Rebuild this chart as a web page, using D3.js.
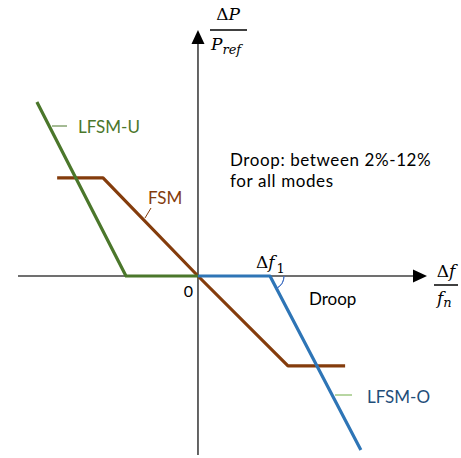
<!DOCTYPE html>
<html>
<head>
<meta charset="utf-8">
<script src="https://cdn.jsdelivr.net/npm/d3@7"></script>
<style>
  body { margin: 0; background: #fff; }
  text { font-family: Lato, "Open Sans", sans-serif; }
  .math { font-family: "DejaVu Serif", serif; }
</style>
</head>
<body>
<svg id="chart" width="461" height="458"></svg>
<script>
// droop characteristics, x = Δf/fn, y = ΔP/Pref (arbitrary units)
const fsmX = [-3.13, -2.11, 0, 2.0, 3.27];
const fsmY = [2.18, 2.18, 0, -2.0, -2.0];
const lfsmUX = [-3.58, -1.6, 0];
const lfsmUY = [3.87, 0, 0];
const lfsmOX = [0, 1.6, 3.62];
const lfsmOY = [0, 0, -3.87];

const seriesNames = ["FSM", "LFSM-U", "LFSM-O"];
const seriesColors = ["#843c0c", "#4b772b", "#2e75b6"];
const labelColors = ["#843c0c", "#4b772b", "#1f4e79"];

const svg = d3.select("#chart");

// scales
const x = d3.scaleLinear().domain([-4.0, 5.09]).range([18, 427]);
const y = d3.scaleLinear().domain([-3.98, 5.47]).range([455, 30]);

const axisColor = "#404040";

// axes without ticks, just the lines through the origin
const xAxis = svg.append("g")
  .attr("transform", `translate(0,${y(0)})`)
  .call(d3.axisBottom(x).tickValues([]).tickSizeOuter(0));
const yAxis = svg.append("g")
  .attr("transform", `translate(${x(0)},0)`)
  .call(d3.axisLeft(y).tickValues([]).tickSizeOuter(0));
[xAxis, yAxis].forEach(g => g.select(".domain")
  .attr("stroke", axisColor).attr("stroke-width", 1.6));

// shorten shafts so the arrowheads sit on the ends
xAxis.select(".domain").attr("d", `M${x(-4.0)},0H${x(5.09) - 13}`);
yAxis.select(".domain").attr("d", `M0,${y(-3.98)}V${y(5.47) + 13}`);

// arrowheads
svg.append("path")
  .attr("d", `M${x(5.09)},${y(0)}L${x(5.09) - 14},${y(0) - 6.5}L${x(5.09) - 14},${y(0) + 6.5}Z`)
  .attr("fill", "#000");
svg.append("path")
  .attr("d", `M${x(0)},${y(5.47)}L${x(0) - 6.5},${y(5.47) + 14}L${x(0) + 6.5},${y(5.47) + 14}Z`)
  .attr("fill", "#000");

// lines
const line = d3.line().x(d => x(d[0])).y(d => y(d[1]));
const series = [
  d3.zip(fsmX, fsmY),
  d3.zip(lfsmUX, lfsmUY),
  d3.zip(lfsmOX, lfsmOY)
];
series.forEach((s, i) => {
  svg.append("path")
    .datum(s)
    .attr("d", line)
    .attr("fill", "none")
    .attr("stroke", seriesColors[i])
    .attr("stroke-width", 3.2)
    .attr("stroke-linejoin", "round");
});

// droop angle arc at Δf1
const kx = x(lfsmOX[1]), ky = y(lfsmOY[1]);
const slopeAng = Math.atan2(y(lfsmOY[2]) - ky, x(lfsmOX[2]) - kx);
svg.append("path")
  .attr("transform", `translate(${kx},${ky})`)
  .attr("d", d3.arc()({innerRadius: 14, outerRadius: 14, startAngle: Math.PI / 2, endAngle: Math.PI / 2 + slopeAng}))
  .attr("fill", "none")
  .attr("stroke", "#4472c4")
  .attr("stroke-width", 1);

// leader lines for labels
svg.append("line").attr("x1", 52).attr("y1", 126).attr("x2", 67).attr("y2", 126)
  .attr("stroke", "#4b772b").attr("stroke-width", 1);
svg.append("line").attr("x1", 151).attr("y1", 208).attr("x2", 145).attr("y2", 218)
  .attr("stroke", "#843c0c").attr("stroke-width", 1);
svg.append("line").attr("x1", 335).attr("y1", 395).attr("x2", 352).attr("y2", 395)
  .attr("stroke", "#70ad47").attr("stroke-width", 1);

// series labels
const labelPos = [[148, 204], [78, 133], [367, 403]];
seriesNames.forEach((n, i) => {
  svg.append("text")
    .attr("x", labelPos[i][0]).attr("y", labelPos[i][1])
    .attr("fill", labelColors[i])
    .style("font-size", "17px")
    .text(n);
});

// other texts
svg.append("text").attr("x", 309).attr("y", 305).style("font-size", "17px").attr("fill", "#000").text("Droop");
const note = svg.append("text").attr("x", 230).attr("y", 166)
  .style("font-size", "17px").style("letter-spacing", "0.6px");
note.append("tspan").attr("x", 230).text("Droop: between 2%-12%");
note.append("tspan").attr("x", 230).attr("dy", 20.6).text("for all modes");
svg.append("text").attr("x", 193).attr("y", 297).attr("text-anchor", "end").style("font-size", "16px").text("0");

// math labels
const df1 = svg.append("text").attr("class", "math").attr("x", 256).attr("y", 268).style("font-size", "17px");
df1.append("tspan").text("Δ");
df1.append("tspan").style("font-style", "italic").text("f");
df1.append("tspan").attr("dx", 2).attr("dy", 5).style("font-size", "13px").text("1");

// y axis title ΔP / Pref
const yt = svg.append("text").attr("class", "math").attr("x", 228).attr("y", 20)
  .attr("text-anchor", "middle").style("font-size", "17px");
yt.append("tspan").text("Δ");
yt.append("tspan").style("font-style", "italic").text("P");
svg.append("line").attr("x1", 210).attr("x2", 247).attr("y1", 30).attr("y2", 30)
  .attr("stroke", "#000").attr("stroke-width", 1.5);
const yb = svg.append("text").attr("class", "math").attr("x", 211).attr("y", 50).style("font-size", "17px");
yb.append("tspan").style("font-style", "italic").text("P");
yb.append("tspan").attr("dy", 4).style("font-style", "italic").style("font-size", "13px").text("ref");

// x axis title Δf / fn
const xt = svg.append("text").attr("class", "math").attr("x", 446).attr("y", 277)
  .attr("text-anchor", "middle").style("font-size", "17px");
xt.append("tspan").text("Δ");
xt.append("tspan").style("font-style", "italic").text("f");
svg.append("line").attr("x1", 434).attr("x2", 458).attr("y1", 285).attr("y2", 285)
  .attr("stroke", "#000").attr("stroke-width", 1.5);
const xb = svg.append("text").attr("class", "math").attr("x", 437).attr("y", 304).style("font-size", "17px");
xb.append("tspan").style("font-style", "italic").text("f");
xb.append("tspan").attr("dy", 3).style("font-style", "italic").style("font-size", "13px").text("n");
</script>
</body>
</html>
